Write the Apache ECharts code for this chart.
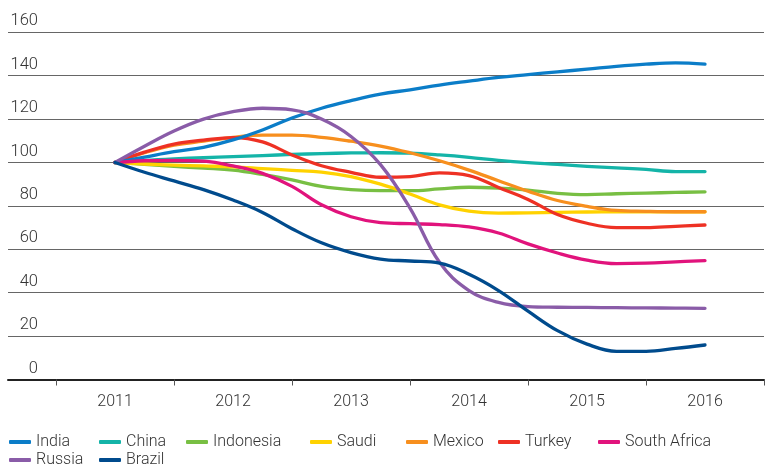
<!DOCTYPE html>
<html>
<head>
<meta charset="utf-8">
<script src="https://cdn.jsdelivr.net/npm/echarts@6/dist/echarts.min.js"></script>
<style>html,body{margin:0;padding:0;background:#fff}#c{width:776px;height:465px}</style>
</head>
<body>
<div id="c"></div>
<script>
// x positions (years, fractional) at which values were read
var times = [2011, 2011.25, 2011.5, 2011.75, 2012, 2012.25, 2012.5, 2012.75, 2013, 2013.25, 2013.5, 2013.75, 2014, 2014.25, 2014.5, 2014.75, 2015, 2015.25, 2015.5, 2015.75, 2016];
var years = ['2011', '2012', '2013', '2014', '2015', '2016'];
var yTicks = [0, 20, 40, 60, 80, 100, 120, 140, 160];

var india       = [100, 102.5, 105, 107, 110.4, 115, 120.5, 125, 128.5, 131.5, 133.5, 135.7, 137.5, 139.2, 140.5, 141.8, 143, 144.3, 145.3, 145.9, 145.3];
var china       = [100, 101, 101.7, 102.2, 102.7, 103.2, 103.7, 104.1, 104.4, 104.5, 104.3, 103.5, 102.4, 101, 99.9, 99.1, 98.2, 97.5, 96.8, 95.8, 95.8];
var indonesia   = [100, 99.2, 98.2, 97.4, 96.5, 94.5, 92, 89, 87.5, 87, 87, 87.8, 88.6, 88.2, 87.3, 85.8, 85.2, 85.6, 85.9, 86.2, 86.5];
var saudi       = [100, 99.3, 98.8, 98.4, 98, 97.2, 96.4, 95.6, 93.5, 90, 85.5, 80.5, 77.6, 76.7, 76.8, 77, 77.2, 77.3, 77.3, 77.3, 77.3];
var mexico      = [100, 104.5, 108, 109.8, 111.6, 112.6, 112.6, 111.6, 109.8, 107.6, 104.5, 100.8, 96.5, 91.6, 86.8, 82.5, 79.8, 77.9, 77.5, 77.3, 77.3];
var turkey      = [100, 104.8, 108.5, 110.3, 111.5, 109.5, 103.5, 98.5, 95.5, 93.2, 93.5, 95.2, 94, 88.5, 83, 76, 72, 70, 70, 70.6, 71.2];
var southAfrica = [100, 100.8, 101, 100.6, 98.4, 95, 89, 80.5, 75, 72.3, 71.8, 71.4, 70.3, 67.5, 62.5, 58.3, 55, 53.4, 53.6, 54.2, 54.8];
var russia      = [100, 107.5, 114.5, 120, 123.4, 125, 124.3, 120, 112, 99, 79, 54, 41, 35.5, 33.6, 33.3, 33.2, 33.1, 33, 32.9, 32.8];
var brazil      = [100, 95.5, 91.5, 87.5, 82.7, 77, 69.5, 63, 58.5, 55.5, 54.6, 53.6, 48.5, 41, 31.5, 22.5, 16.3, 13, 13, 14.3, 15.9];

var seriesDefs = [
  {name: 'China', data: china, color: '#14b4a8'},
  {name: 'Indonesia', data: indonesia, color: '#78bf43'},
  {name: 'Saudi', data: saudi, color: '#ffd200'},
  {name: 'Mexico', data: mexico, color: '#f78f1e'},
  {name: 'Turkey', data: turkey, color: '#ee3124'},
  {name: 'India', data: india, color: '#0b7dc8'},
  {name: 'South Africa', data: southAfrica, color: '#e1137c'},
  {name: 'Russia', data: russia, color: '#8a5ca8'},
  {name: 'Brazil', data: brazil, color: '#004b8d'}
];

var legendPos = [
  {name: 'India', left: 9, top: 434},
  {name: 'China', left: 99, top: 434},
  {name: 'Indonesia', left: 186, top: 434},
  {name: 'Saudi', left: 310, top: 434},
  {name: 'Mexico', left: 406, top: 434},
  {name: 'Turkey', left: 498, top: 434},
  {name: 'South Africa', left: 598, top: 434},
  {name: 'Russia', left: 9, top: 452},
  {name: 'Brazil', left: 99, top: 452}
];

var FONT = 'Roboto';
var chart = echarts.init(document.getElementById('c'), null, {renderer: 'canvas'});

var series = seriesDefs.map(function (s) {
  return {
    name: s.name,
    type: 'line',
    xAxisIndex: 2,
    yAxisIndex: 1,
    smooth: 0.4,
    showSymbol: false,
    symbol: 'none',
    lineStyle: {width: 3.3, color: s.color, cap: 'round', join: 'round'},
    itemStyle: {color: s.color},
    data: times.map(function (t, i) { return [t, s.data[i]]; })
  };
});

var legends = legendPos.map(function (l) {
  return {
    data: [{name: l.name, icon: 'roundRect'}],
    left: l.left,
    top: l.top,
    padding: 0,
    itemWidth: 22,
    itemHeight: 4,
    itemGap: 5,
    textStyle: {fontFamily: FONT, fontWeight: 300, fontSize: 16, color: '#333', padding: [0, 0, 0, 0]}
  };
});

var option = {
  animation: false,
  backgroundColor: '#fff',
  legend: legends,
  grid: [
    {left: 8, right: 12, top: 32.3, bottom: 85.5},
    {left: 56, right: 12, top: 32.3, bottom: 85.5}
  ],
  xAxis: [
    {
      gridIndex: 0, type: 'value', min: 0, max: 1,
      axisLine: {show: true, lineStyle: {color: '#222', width: 2}},
      axisTick: {show: false}, axisLabel: {show: false}, splitLine: {show: false}
    },
    {
      gridIndex: 1, type: 'category', data: years, boundaryGap: true,
      axisLine: {show: false},
      axisTick: {show: true, length: 6, lineStyle: {color: '#555', width: 1}},
      axisLabel: {fontFamily: FONT, fontWeight: 300, fontSize: 16, color: '#333', margin: 14},
      splitLine: {show: false}
    },
    {
      gridIndex: 1, type: 'value', min: 2010.5, max: 2016.5, show: false
    }
  ],
  yAxis: [
    {
      gridIndex: 0, type: 'value', min: yTicks[0], max: yTicks[yTicks.length - 1], interval: 20,
      axisLine: {show: false}, axisTick: {show: false},
      axisLabel: {
        inside: true, margin: 30, align: 'right', verticalAlign: 'bottom',
        lineHeight: 16, padding: [0, 0, 3, 0],
        fontFamily: FONT, fontWeight: 300, fontSize: 16.5, color: '#333',
        formatter: function (v) { return yTicks.indexOf(v) >= 0 ? String(v) : ''; }
      },
      splitLine: {show: true, lineStyle: {color: '#666', width: 1.2}}
    },
    {
      gridIndex: 1, type: 'value', min: 0, max: 160, show: false
    }
  ],
  series: series
};
chart.setOption(option);
</script>
</body>
</html>
